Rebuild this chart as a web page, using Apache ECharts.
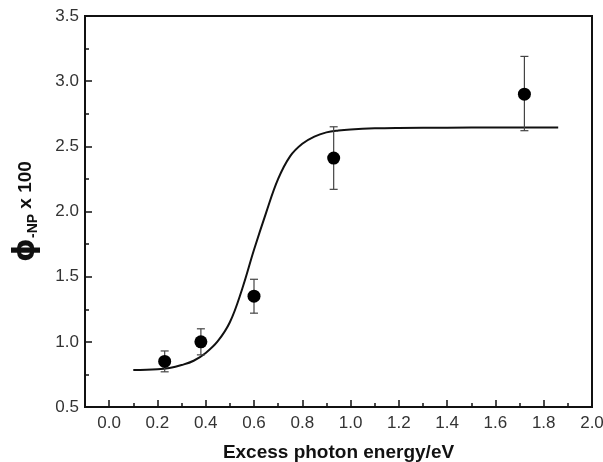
<!DOCTYPE html>
<html>
<head>
<meta charset="utf-8">
<script src="https://cdn.jsdelivr.net/npm/echarts@6/dist/echarts.min.js"></script>
<style>
  html, body { margin: 0; padding: 0; background: #fff; }
  #chart { width: 603px; height: 462px; }
</style>
</head>
<body>
<div id="chart"></div>
<script>
// measured points
var energy = [0.23, 0.38, 0.60, 0.93, 1.72];
var phi = [0.85, 1.00, 1.35, 2.41, 2.90];
var errLow = [0.77, 0.90, 1.22, 2.17, 2.62];
var errHigh = [0.93, 1.10, 1.48, 2.65, 3.19];

// fitted curve
var fitX = [0.10, 0.20, 0.25, 0.30, 0.35, 0.40, 0.45, 0.50, 0.55, 0.60, 0.65, 0.70,
  0.75, 0.80, 0.85, 0.90, 0.95, 1.00, 1.10, 1.20, 1.40, 1.60, 1.86];
var fitY = [0.783, 0.790, 0.800, 0.822, 0.855, 0.915, 1.005, 1.150, 1.400, 1.706, 1.990, 2.250,
  2.425, 2.520, 2.575, 2.607, 2.622, 2.630, 2.638, 2.641, 2.643, 2.644, 2.645];

// tick labels
var xMajor = [0.0, 0.2, 0.4, 0.6, 0.8, 1.0, 1.2, 1.4, 1.6, 1.8, 2.0];
var xMinor = [-0.1, 0.1, 0.3, 0.5, 0.7, 0.9, 1.1, 1.3, 1.5, 1.7, 1.9];

var myChart = echarts.init(document.getElementById("chart"));

var pts = [], fit = [], bars = [];
for (var i = 0; i < energy.length; i++) {
  pts.push([energy[i], phi[i]]);
  bars.push([energy[i], errLow[i], errHigh[i]]);
}
for (var j = 0; j < fitX.length; j++) {
  fit.push([fitX[j], fitY[j]]);
}

var fontName = "Liberation Sans, Arial, sans-serif";

var option = {
  animation: false,
  backgroundColor: "#fff",
  grid: {
    left: 85, right: 11, top: 16, bottom: 55,
    outerBoundsMode: "none",
    containLabel: false,
    show: true, borderColor: "#111", borderWidth: 2
  },
  xAxis: [
    {
      type: "value",
      min: -0.1, max: 2.0,
      axisLine: { show: true, onZero: false, lineStyle: { color: "#111", width: 2 } },
      axisTick: { show: true, inside: true, length: 7, customValues: xMajor, lineStyle: { color: "#111", width: 1.5 } },
      axisLabel: {
        customValues: xMajor, margin: 8,
        fontFamily: fontName, fontSize: 17, color: "#333",
        formatter: function (v) { return v.toFixed(1); }
      },
      splitLine: { show: false },
      name: "Excess photon energy/eV",
      nameLocation: "middle",
      nameGap: 36,
      nameTextStyle: { fontFamily: fontName, fontSize: 19, fontWeight: "bold", color: "#111" }
    },
    {
      type: "value",
      min: -0.1, max: 2.0,
      position: "bottom",
      axisLine: { show: false, onZero: false },
      axisTick: { show: true, inside: true, length: 4, customValues: xMinor, lineStyle: { color: "#111", width: 1.5 } },
      axisLabel: { show: false },
      splitLine: { show: false }
    }
  ],
  yAxis: {
    type: "value",
    min: 0.5, max: 3.5, interval: 0.5,
    axisLine: { show: true, onZero: false, lineStyle: { color: "#111", width: 2 } },
    axisTick: { show: true, inside: true, length: 7, lineStyle: { color: "#111", width: 1.5 } },
    minorTick: { show: true, splitNumber: 2, length: 4, lineStyle: { color: "#111", width: 1.5 } },
    axisLabel: {
      margin: 6,
      fontFamily: fontName, fontSize: 17, color: "#333",
      formatter: function (v) { return v.toFixed(1); }
    },
    splitLine: { show: false },
    name: "{phi|\u03d5}{sub|-NP}{txt| x 100}",
    nameLocation: "middle",
    nameGap: 44,
    nameTextStyle: {
      color: "#111",
      rich: {
        phi: { fontFamily: "DejaVu Sans, sans-serif", fontSize: 30, fontWeight: "bold", color: "#111" },
        sub: { fontFamily: fontName, fontSize: 14, fontWeight: "bold", color: "#111", padding: [14, 0, 0, 0] },
        txt: { fontFamily: fontName, fontSize: 19, fontWeight: "bold", color: "#111" }
      }
    }
  },
  series: [
    {
      type: "line",
      data: fit,
      smooth: 0.4,
      showSymbol: false,
      lineStyle: { color: "#111", width: 2 },
      z: 2
    },
    {
      type: "custom",
      data: bars,
      renderItem: function (params, api) {
        var lo = api.coord([api.value(0), api.value(1)]);
        var hi = api.coord([api.value(0), api.value(2)]);
        var w = 4;
        var st = { stroke: "#444", lineWidth: 1.2 };
        return {
          type: "group",
          children: [
            { type: "line", shape: { x1: hi[0], y1: hi[1], x2: lo[0], y2: lo[1] }, style: st },
            { type: "line", shape: { x1: hi[0] - w, y1: hi[1], x2: hi[0] + w, y2: hi[1] }, style: st },
            { type: "line", shape: { x1: lo[0] - w, y1: lo[1], x2: lo[0] + w, y2: lo[1] }, style: st }
          ]
        };
      },
      z: 3
    },
    {
      type: "scatter",
      data: pts,
      symbol: "circle",
      symbolSize: 13,
      itemStyle: { color: "#000", opacity: 1 },
      z: 4
    }
  ]
};

myChart.setOption(option);
</script>
</body>
</html>
